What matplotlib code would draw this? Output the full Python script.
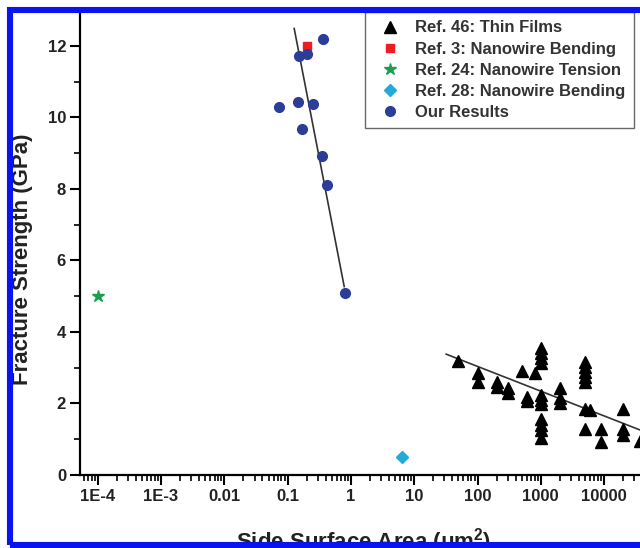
import numpy as np
import matplotlib
matplotlib.use("Agg")
import matplotlib.pyplot as plt
import matplotlib.ticker as mticker
from matplotlib.patches import Rectangle

plt.rcParams["font.family"] = ["Liberation Sans", "DejaVu Sans"]
plt.rcParams["font.weight"] = "bold"
plt.rcParams["mathtext.fontset"] = "custom"
plt.rcParams["mathtext.rm"] = "Liberation Sans"
plt.rcParams["mathtext.bf"] = "Liberation Sans:bold"

# --- data ---
# Ref. 46: thin films
films_area = [50, 100, 100, 200, 200, 300, 300, 500, 800, 600, 600,
              1000, 1000, 1000, 1000, 1000, 1000, 1000, 1000, 1000, 1000, 1000,
              2000, 2000, 2000, 5000, 5000, 5000, 5000, 5000, 5000, 6000, 5000,
              9000, 9000, 20000, 20000, 20000, 37000]
films_strength = [3.20, 2.84, 2.61, 2.61, 2.45, 2.42, 2.28, 2.92, 2.84, 2.19, 2.07,
                  3.54, 3.40, 3.26, 3.12, 2.24, 2.10, 1.99, 1.56, 1.40, 1.26, 1.03,
                  2.42, 2.14, 2.02, 3.15, 3.01, 2.87, 2.73, 2.61, 1.84, 1.82, 1.28,
                  1.28, 0.92, 1.86, 1.28, 1.12, 0.95]
films_fit_area = [32, 1e5]
films_fit_strength = [3.38, 0.96]

# Ref. 3: nanowire bending
ref3_area = [0.20]
ref3_strength = [12.0]

# Ref. 24: nanowire tension
ref24_area = [1e-4]
ref24_strength = [5.0]

# Ref. 28: nanowire bending
ref28_area = [6.3]
ref28_strength = [0.5]

# our results
ours_area = [0.365, 0.152, 0.202, 0.073, 0.147, 0.248, 0.168, 0.348, 0.413, 0.81]
ours_strength = [12.20, 11.72, 11.77, 10.28, 10.44, 10.39, 9.68, 8.91, 8.12, 5.10]
ours_fit_area = [0.127, 0.784]
ours_fit_strength = [12.49, 5.27]

xtick_vals = [1e-4, 1e-3, 1e-2, 0.1, 1, 10, 100, 1000, 10000, 1e5, 1e6]
xtick_text = ["1E-4", "1E-3", "0.01", "0.1", "1", "10", "100", "1000", "10000", "", ""]

W, H = 640, 548
fig = plt.figure(figsize=(W / 100, H / 100), dpi=100)
fig.patch.set_facecolor("white")

# axes run past the right edge of the (cropped) picture
ax = fig.add_axes([80 / W, 73 / H, 650.7 / W, 461.2 / H])
ax.set_xscale("log")
ax.set_xlim(5.25e-5, 1e6)
ax.set_ylim(0, 12.9)

ax.plot(films_fit_area, films_fit_strength, color="#333333", lw=1.2, zorder=2)
ax.plot(ours_fit_area, ours_fit_strength, color="#333333", lw=1.2, zorder=2)

ax.plot(films_area, films_strength, ls="none", marker="^", ms=8.5, color="black",
        label="Ref. 46: Thin Films", zorder=3)
ax.plot(ref3_area, ref3_strength, ls="none", marker="s", ms=6, color="#ee1c25",
        label="Ref. 3: Nanowire Bending", zorder=3)
ax.plot(ref24_area, ref24_strength, ls="none", marker="*", ms=9, color="#1a9e4f",
        label="Ref. 24: Nanowire Tension", zorder=3)
ax.plot(ref28_area, ref28_strength, ls="none", marker="D", ms=6, color="#22aad8",
        label="Ref. 28: Nanowire Bending", zorder=3)
ax.plot(ours_area, ours_strength, ls="none", marker="o", ms=7, color="#2b3d96",
        label="Our Results", zorder=4)

for side in ("top", "right"):
    ax.spines[side].set_visible(False)
for side in ("left", "bottom"):
    ax.spines[side].set_linewidth(1.6)

ax.set_yticks(np.arange(0, 13, 2))
ax.yaxis.set_minor_locator(mticker.MultipleLocator(1))
ax.xaxis.set_major_locator(mticker.FixedLocator(xtick_vals))
ax.xaxis.set_major_formatter(mticker.FixedFormatter(xtick_text))
ax.xaxis.set_minor_locator(mticker.LogLocator(base=10, subs=np.arange(2, 10), numticks=30))
ax.xaxis.set_minor_formatter(mticker.NullFormatter())
ax.tick_params(which="major", direction="out", length=7, width=1.5, labelsize=12, pad=3)
ax.tick_params(which="minor", direction="out", length=4, width=1.2)
for lab in ax.get_xticklabels() + ax.get_yticklabels():
    lab.set_fontweight("bold")
    lab.set_color("#222222")

fig.text(23 / W, 1 - 259 / H, "Fracture Strength (GPa)", rotation=90, ha="center",
         va="center", fontsize=16, fontweight="bold", color="#222222")
fig.text(364 / W, 1 - 526 / H, r"Side Surface Area (μm$^{\mathbf{2}}$)", ha="center",
         va="top", fontsize=16, fontweight="bold", color="#222222")

leg = ax.legend(loc="upper left", bbox_to_anchor=(365 / W, 1 - 12 / H),
                bbox_transform=fig.transFigure, fontsize=12, frameon=True,
                fancybox=False, borderpad=0.5, labelspacing=0.37, handletextpad=0.5,
                handlelength=2.0, borderaxespad=0)
leg.get_frame().set_edgecolor("#444444")
leg.get_frame().set_linewidth(1.0)
for t in leg.get_texts():
    t.set_fontweight("bold")
    t.set_color("#333333")

# blue frame around the cropped figure
fig.add_artist(Rectangle((10 / W, 3 / H), 700 / W, 1 - 13 / H,
                         transform=fig.transFigure, fill=False,
                         edgecolor="#0a14f0", linewidth=4.4, zorder=10))

fig.savefig("out.png", dpi=100, facecolor="white")
